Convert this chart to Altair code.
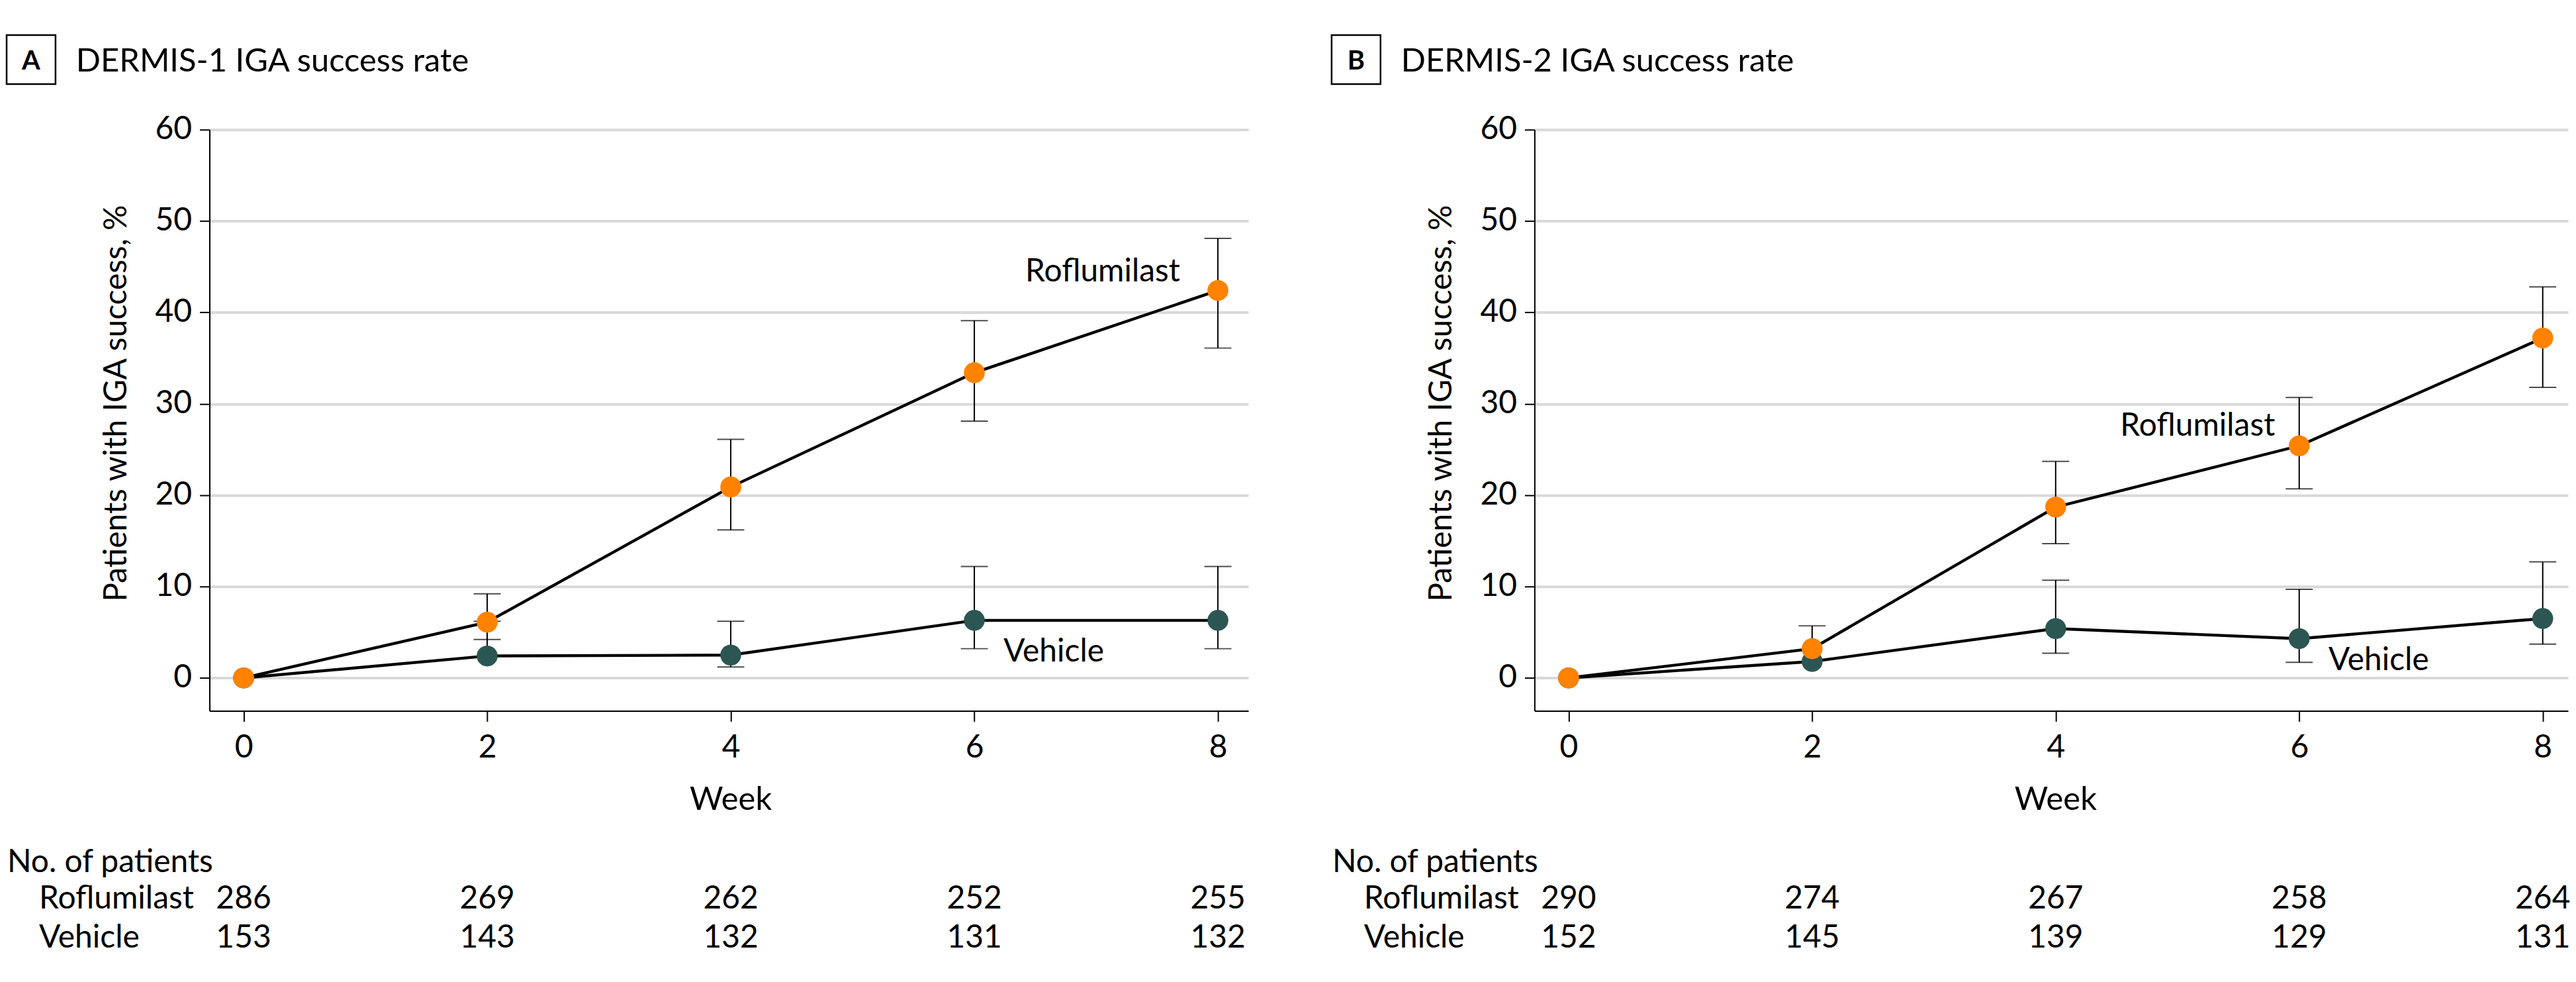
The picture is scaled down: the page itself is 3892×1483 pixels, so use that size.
import altair as alt
import pandas as pd

# ---------------- data ----------------
weeks = [0, 2, 4, 6, 8]

a_rof = [0, 6.1, 20.9, 33.4, 42.4]
a_rof_lo = [None, 4.2, 16.2, 28.1, 36.1]
a_rof_hi = [None, 9.2, 26.1, 39.1, 48.1]
a_veh = [0, 2.4, 2.5, 6.3, 6.3]
a_veh_lo = [None, None, 1.2, 3.2, 3.2]
a_veh_hi = [None, 6.2, 6.2, 12.2, 12.2]

b_rof = [0, 3.2, 18.7, 25.4, 37.2]
b_rof_lo = [None, None, 14.7, 20.7, 31.8]
b_rof_hi = [None, 5.7, 23.7, 30.7, 42.8]
b_veh = [0, 1.8, 5.4, 4.3, 6.5]
b_veh_lo = [None, None, 2.7, 1.7, 3.7]
b_veh_hi = [None, None, 10.7, 9.7, 12.7]

a_n_rof = [286, 269, 262, 252, 255]
a_n_veh = [153, 143, 132, 131, 132]
b_n_rof = [290, 274, 267, 258, 264]
b_n_veh = [152, 145, 139, 129, 131]

y_ticks = [0, 10, 20, 30, 40, 50, 60]

FONT = "Lato"
ORANGE = "#FF8200"
TEAL = "#2C5654"
GRID = "#D9D9D9"
PLOT_H = 879


def one(text):
    return pd.DataFrame({"t": [text]})


def build_panel(letter, title, rof, rof_lo, rof_hi, veh, veh_lo, veh_hi,
                n_rof, n_veh, x_max, width, rof_lab, veh_lab):
    recs, caps = [], []
    for grp, vals, lo, hi in (("Vehicle", veh, veh_lo, veh_hi),
                              ("Roflumilast", rof, rof_lo, rof_hi)):
        for w, v, l, h in zip(weeks, vals, lo, hi):
            recs.append({"week": w, "value": v, "group": grp,
                         "lo": v if l is None else l,
                         "hi": v if h is None else h})
            for bnd in (l, h):
                if bnd is not None:
                    caps.append({"week": w, "bound": bnd, "group": grp})
    pts = pd.DataFrame(recs)
    capdf = pd.DataFrame(caps)

    xs = alt.Scale(domain=[-0.28, x_max], nice=False, zero=False)
    ys = alt.Scale(domain=[-3.6, 60], nice=False, zero=False)
    xax = alt.Axis(values=weeks, title=None, grid=False, domainColor="black",
                   domainWidth=2, tickColor="black", tickWidth=2, tickSize=16,
                   labelPadding=16, labelFont=FONT, labelFontSize=48,
                   labelColor="black", labelAngle=0)
    yax = alt.Axis(values=y_ticks, title=None, grid=True, gridColor=GRID,
                   gridWidth=4, domainColor="black", domainWidth=2,
                   tickColor="black", tickWidth=2, tickSize=15, labelPadding=12,
                   labelFont=FONT, labelFontSize=48, labelColor="black")
    X = alt.X("week:Q", scale=xs, axis=xax)
    color = alt.Color("group:N", scale=alt.Scale(domain=["Vehicle", "Roflumilast"],
                                                 range=[TEAL, ORANGE]), legend=None)

    rules = alt.Chart(pts).mark_rule(color="black", strokeWidth=2).encode(
        x=X, y=alt.Y("lo:Q", scale=ys, axis=yax), y2="hi:Q")
    capm = alt.Chart(capdf).mark_tick(color="black", thickness=2, size=41,
                                      orient="horizontal").encode(
        x=X, y=alt.Y("bound:Q", scale=ys, axis=yax))
    lines = alt.Chart(pts).mark_line(color="black", strokeWidth=4.4).encode(
        x=X, y=alt.Y("value:Q", scale=ys, axis=yax), detail="group:N")
    points = alt.Chart(pts).mark_circle(size=1000, opacity=1).encode(
        x=X, y=alt.Y("value:Q", scale=ys, axis=yax), color=color)

    labdf = pd.DataFrame([
        {"week": rof_lab[0], "value": rof_lab[1], "t": "Roflumilast", "al": rof_lab[2]},
        {"week": veh_lab[0], "value": veh_lab[1], "t": "Vehicle", "al": veh_lab[2]},
    ])
    labels = []
    for al in ("left", "right"):
        sub = labdf[labdf["al"] == al]
        if len(sub):
            labels.append(alt.Chart(sub).mark_text(
                font=FONT, fontSize=48, align=al, baseline="alphabetic",
                color="black").encode(
                x=X, y=alt.Y("value:Q", scale=ys, axis=yax), text="t:N"))

    def txt(s, x, y, size=48, align="left", weight="normal", angle=0, baseline="alphabetic"):
        return alt.Chart(one(s)).mark_text(
            font=FONT, fontSize=size, align=align, baseline=baseline,
            fontWeight=weight, angle=angle, color="black").encode(
            x=alt.value(x), y=alt.value(y), text="t:N")

    box = alt.Chart(one("")).mark_rect(fill="white", stroke="black",
                                       strokeWidth=2.5).encode(
        x=alt.value(-307), x2=alt.value(-233), y=alt.value(-143), y2=alt.value(-69))
    letter_t = txt(letter, -270, -91, size=40, align="center", weight="bold")
    title_t = txt(title, -202, -88, size=49)
    ytitle = txt("Patients with IGA success, %", -140, 414, size=48,
                 align="center", angle=270, baseline="middle")
    week_t = alt.Chart(one("Week")).mark_text(
        font=FONT, fontSize=49, align="center", baseline="alphabetic",
        color="black").encode(x=alt.X("w:Q", scale=xs, axis=xax),
                              y=alt.value(1029), text="t:N").transform_calculate(w="4")

    nop = txt("No. of patients", -306, 1123)
    r_lab = txt("Roflumilast", -258, 1178)
    v_lab = txt("Vehicle", -258, 1237)

    ndf_r = pd.DataFrame({"week": weeks, "n": n_rof})
    ndf_v = pd.DataFrame({"week": weeks, "n": n_veh})
    n_r = alt.Chart(ndf_r).mark_text(font=FONT, fontSize=48, align="center",
                                     baseline="alphabetic", color="black").encode(
        x=X, y=alt.value(1178), text="n:Q")
    n_v = alt.Chart(ndf_v).mark_text(font=FONT, fontSize=48, align="center",
                                     baseline="alphabetic", color="black").encode(
        x=X, y=alt.value(1237), text="n:Q")

    return alt.layer(rules, capm, lines, points, *labels, box, letter_t, title_t,
                     ytitle, week_t, nop, r_lab, v_lab, n_r, n_v).properties(
        width=width, height=PLOT_H)


panel_a = build_panel("A", "DERMIS-1 IGA success rate", a_rof, a_rof_lo, a_rof_hi,
                      a_veh, a_veh_lo, a_veh_hi, a_n_rof, a_n_veh,
                      8.25, 1572, (7.69, 43.4, "right"), (6.24, 1.8, "left"))
panel_b = build_panel("B", "DERMIS-2 IGA success rate", b_rof, b_rof_lo, b_rof_hi,
                      b_veh, b_veh_lo, b_veh_hi, b_n_rof, b_n_veh,
                      8.208, 1564, (4.53, 26.5, "left"), (6.24, 0.83, "left"))

chart = alt.hconcat(panel_a, panel_b, spacing=124).properties(
    padding={"left": 0, "top": 42, "right": 0, "bottom": 0},
    background="white",
).configure_view(stroke=None)

chart.save("out.html", embed_options={"renderer": "svg", "actions": False})
